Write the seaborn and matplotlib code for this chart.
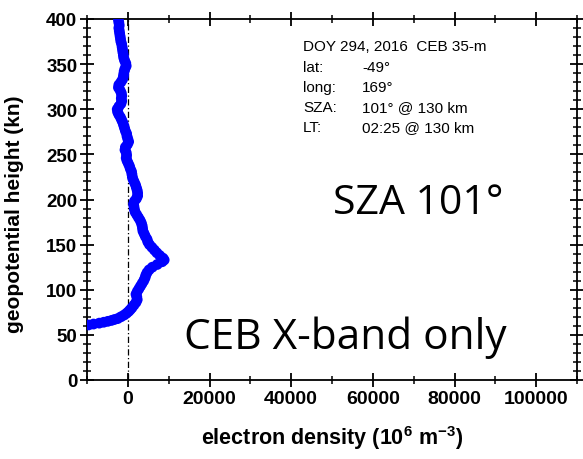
import matplotlib
matplotlib.use("Agg")
import matplotlib.pyplot as plt
from matplotlib.ticker import MultipleLocator
import seaborn as sns
import pandas as pd

# Electron density profile (10^6 m^-3) against geopotential height (km)
height_km = [61, 62, 63, 64, 65, 66, 67, 68, 70, 72, 74, 76, 78, 80, 83, 86, 89,
             92, 95, 98, 101, 104, 107, 110, 113, 116, 119, 122, 125, 128, 131,
             133, 135, 138, 141, 144, 147, 150, 153, 156, 159, 162, 165, 168,
             171, 174, 177, 180, 183, 186, 189, 192, 195, 198, 201, 204, 207,
             210, 213, 216, 219, 222, 225, 228, 231, 234, 237, 240, 243, 246,
             249, 252, 255, 258, 261, 264, 267, 270, 273, 276, 279, 282, 285,
             288, 291, 294, 297, 300, 303, 306, 309, 312, 315, 318, 321, 324,
             327, 330, 333, 336, 339, 342, 345, 348, 351, 354, 357, 360, 363,
             366, 369, 372, 375, 378, 381, 384, 387, 390, 393, 396, 399]
density = [-9600, -8400, -7000, -5900, -4900, -4000, -3300, -2500, -1700, -900,
           -300, 200, 600, 1000, 1500, 2000, 2300, 2200, 2000, 2300, 2700, 3100,
           3500, 3900, 4200, 4400, 4700, 5200, 6000, 7200, 8400, 8900, 8600,
           7800, 7100, 6500, 5900, 5300, 4900, 4700, 4300, 4000, 3700, 3600,
           3500, 3300, 3000, 2600, 2200, 1800, 1600, 1500, 1400, 1600, 2100,
           2400, 2400, 2300, 2100, 1900, 1600, 1300, 1100, 1000, 900, 600, 400,
           100, -200, -400, -300, -400, -700, -600, -100, 200, 0, -200, -300,
           -600, -800, -1000, -1200, -1500, -1800, -2200, -2500, -2600, -2200,
           -1700, -1500, -1600, -1500, -1600, -1900, -2300, -2200, -1700, -1300,
           -1100, -1000, -900, -700, -400, -500, -800, -1000, -1100, -1200,
           -1300, -1400, -1500, -1700, -1800, -1900, -2000, -2100, -2200, -2100,
           -2200, -2300]

x_ticks = [0, 20000, 40000, 60000, 80000, 100000]
y_ticks = [0, 50, 100, 150, 200, 250, 300, 350, 400]

info_keys = ["lat:", "long:", "SZA:", "LT:"]
info_vals = ["-49°", "169°", "101° @ 130 km", "02:25 @ 130 km"]
header = "DOY 294, 2016  CEB 35-m"
big_sza = "SZA 101°"
big_band = "CEB X-band only"

sns.set_theme(style="ticks")
plt.rcParams["font.family"] = ["Liberation Sans", "DejaVu Sans"]
plt.rcParams["mathtext.fontset"] = "custom"
plt.rcParams["mathtext.rm"] = "Liberation Sans"
plt.rcParams["mathtext.bf"] = "Liberation Sans:bold"

W, H = 583, 460
fig = plt.figure(figsize=(W / 100, H / 100), dpi=100)
ax = fig.add_axes([87 / W, 1 - 381 / H, (577 - 87) / W, (381 - 20) / H])

df = pd.DataFrame({"density": density, "height": height_km})
sns.scatterplot(data=df, x="density", y="height", ax=ax, color="#0000ff",
                s=60, edgecolor="none", linewidth=0, zorder=3, legend=False)

ax.axvline(0, color="black", lw=0.9, ls=(0, (5, 2, 1, 2)), zorder=2)

ax.set_xlim(-10000, 110000)
ax.set_ylim(0, 400)
ax.set_xticks(x_ticks)
ax.set_yticks(y_ticks)
ax.xaxis.set_minor_locator(MultipleLocator(10000))
ax.yaxis.set_minor_locator(MultipleLocator(10))

for side in ["top", "right", "bottom", "left"]:
    ax.spines[side].set_visible(True)
    ax.spines[side].set_linewidth(1.3)
    ax.spines[side].set_color("black")

ax.tick_params(which="major", direction="inout", length=10, width=1.3,
               top=True, right=True, color="black", pad=3)
ax.tick_params(which="minor", direction="inout", length=5.5, width=1.1,
               top=True, right=True, color="black")
ax.tick_params(axis="x", which="major", labelsize=14, pad=2)
ax.tick_params(axis="y", which="major", labelsize=13.5, pad=2)
for lab in ax.get_xticklabels() + ax.get_yticklabels():
    lab.set_fontweight("bold")
    lab.set_color("black")

ax.set_xlabel(r"electron density (10$^{\mathbf{6}}$ m$^{\mathbf{-3}}$)",
              fontsize=15.5, fontweight="bold", color="black", labelpad=12)
ax.set_ylabel("geopotential height (kn)", fontsize=15, fontweight="bold",
              color="black")
ax.yaxis.set_label_coords(-0.128, 0.463)


def px(x, y):
    return x / W, 1 - y / H


fig.text(*px(303, 47), header, fontsize=11, va="center", ha="left", color="black")
for i, (k, v) in enumerate(zip(info_keys, info_vals)):
    y = 68 + i * 20
    fig.text(*px(303, y), k, fontsize=11, va="center", ha="left", color="black")
    fig.text(*px(362, y), v, fontsize=11, va="center", ha="left", color="black")

fig.text(*px(333, 214), big_sza, fontsize=29.5, va="baseline", ha="left",
         family=["Open Sans", "DejaVu Sans"], color="black")
fig.text(*px(184, 349), big_band, fontsize=30.5, va="baseline", ha="left",
         family=["Open Sans", "DejaVu Sans"], color="black")

fig.savefig("out.png", dpi=100, facecolor="white")
